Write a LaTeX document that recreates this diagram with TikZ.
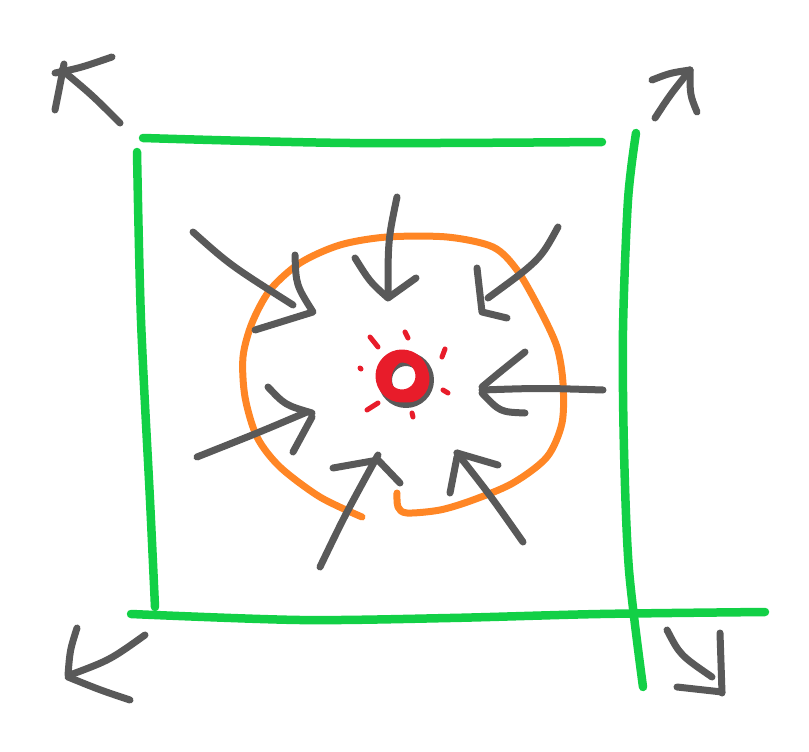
\documentclass[tikz,border=0pt]{standalone}
\definecolor{penGray}{HTML}{595959}
\definecolor{penGreen}{HTML}{12D046}
\definecolor{penOrange}{HTML}{FF8625}
\definecolor{penRed}{HTML}{E81C2A}
\begin{document}
\begin{tikzpicture}[x=1pt,y=-1pt,line cap=round,line join=round,
	pen/.style={color=penGray,line width=7pt},
	wall/.style={color=penGreen,line width=8.5pt},
	blob/.style={color=penOrange,line width=7pt},
	spark/.style={color=penRed,line width=5pt}]
		\useasboundingbox (0,0) rectangle (809,752);
		\draw[wall] plot[smooth] coordinates {(143,138) (350,143) (602,142)};
		\draw[wall] plot[smooth] coordinates {(137,152) (141,320) (150,500) (155,607)};
		\draw[wall] plot[smooth] coordinates {(636,133) (628,200) (623,330) (624,450) (629,570) (643,687)};
		\draw[wall] plot[smooth] coordinates {(131,614) (300,620) (450,618) (600,614) (765,612)};
		\draw[blob] plot[smooth] coordinates {(362,517) (320,497) (280,467) (257,437) (245,397) (243,357)
			(252,323) (270,290) (300,263) (340,245) (387,237) (447,237) (493,247) (517,270) (540,310)
			(557,347) (563,383) (562,423) (547,457) (513,483) (473,500) (440,510) (407,513) (398,507) (397,493)};
		\draw[pen] (120,123) .. controls (92,95) .. (62,70);
		\draw[pen] (55,110) .. controls (60,85) .. (64,64);
		\draw[pen] (55,73) .. controls (80,68) .. (112,57);
		\draw[pen] (655,118) .. controls (670,95) .. (690,70);
		\draw[pen] (652,80) .. controls (670,73) .. (690,70);
		\draw[pen] (690,70) .. controls (690,95) .. (697,112);
		\draw[pen] (145,635) .. controls (110,660) .. (70,675);
		\draw[pen] (77,628) .. controls (70,650) .. (68,675);
		\draw[pen] (68,677) .. controls (100,690) .. (130,700);
		\draw[pen] (667,630) .. controls (680,655) .. (712,677);
		\draw[pen] (720,633) -- (722,693);
		\draw[pen] (677,687) -- (722,692);
		\draw[pen] (193,232) .. controls (230,265) .. (293,305);
		\draw[pen] (295,255) .. controls (296,285) .. (313,312) -- (255,330);
		\draw[pen] (397,197) .. controls (388,240) .. (388,297);
		\draw[pen] (355,258) .. controls (370,282) .. (388,298) -- (416,278);
		\draw[pen] (558,227) .. controls (540,260) .. (488,298);
		\draw[pen] (477,268) -- (482,312) -- (507,318);
		\draw[pen] (603,390) .. controls (540,388) .. (482,390);
		\draw[pen] (525,352) .. controls (500,372) .. (482,387);
		\draw[pen] (482,393) .. controls (500,412) .. (525,413);
		\draw[pen] (197,457) .. controls (260,432) .. (307,412);
		\draw[pen] (268,387) .. controls (285,405) .. (312,413);
		\draw[pen] (312,417) -- (293,452);
		\draw[pen] (320,567) .. controls (345,515) .. (378,455);
		\draw[pen] (333,468) -- (378,460) -- (400,483);
		\draw[pen] (523,542) .. controls (490,495) .. (457,453);
		\draw[pen] (457,453) -- (498,465);
		\draw[pen] (457,457) -- (450,493);
		\draw[color=penGray,line width=14pt] (406,380) circle[radius=21];
		\draw[color=penRed,line width=13pt] (402,376) circle[radius=20];
		\draw[color=penRed,line width=5pt] (408,379) ellipse[x radius=19,y radius=21];
		\foreach \a/\b in {{(370,337)/(378,347)},{(405,332)/(408,338)},{(445,349)/(442,357)},
			{(360,368)/(361,369)},{(443,390)/(448,393)},{(367,410)/(378,403)},{(412,413)/(413,417)}}
			\draw[spark] \a -- \b;
	\end{tikzpicture}
\end{document}
